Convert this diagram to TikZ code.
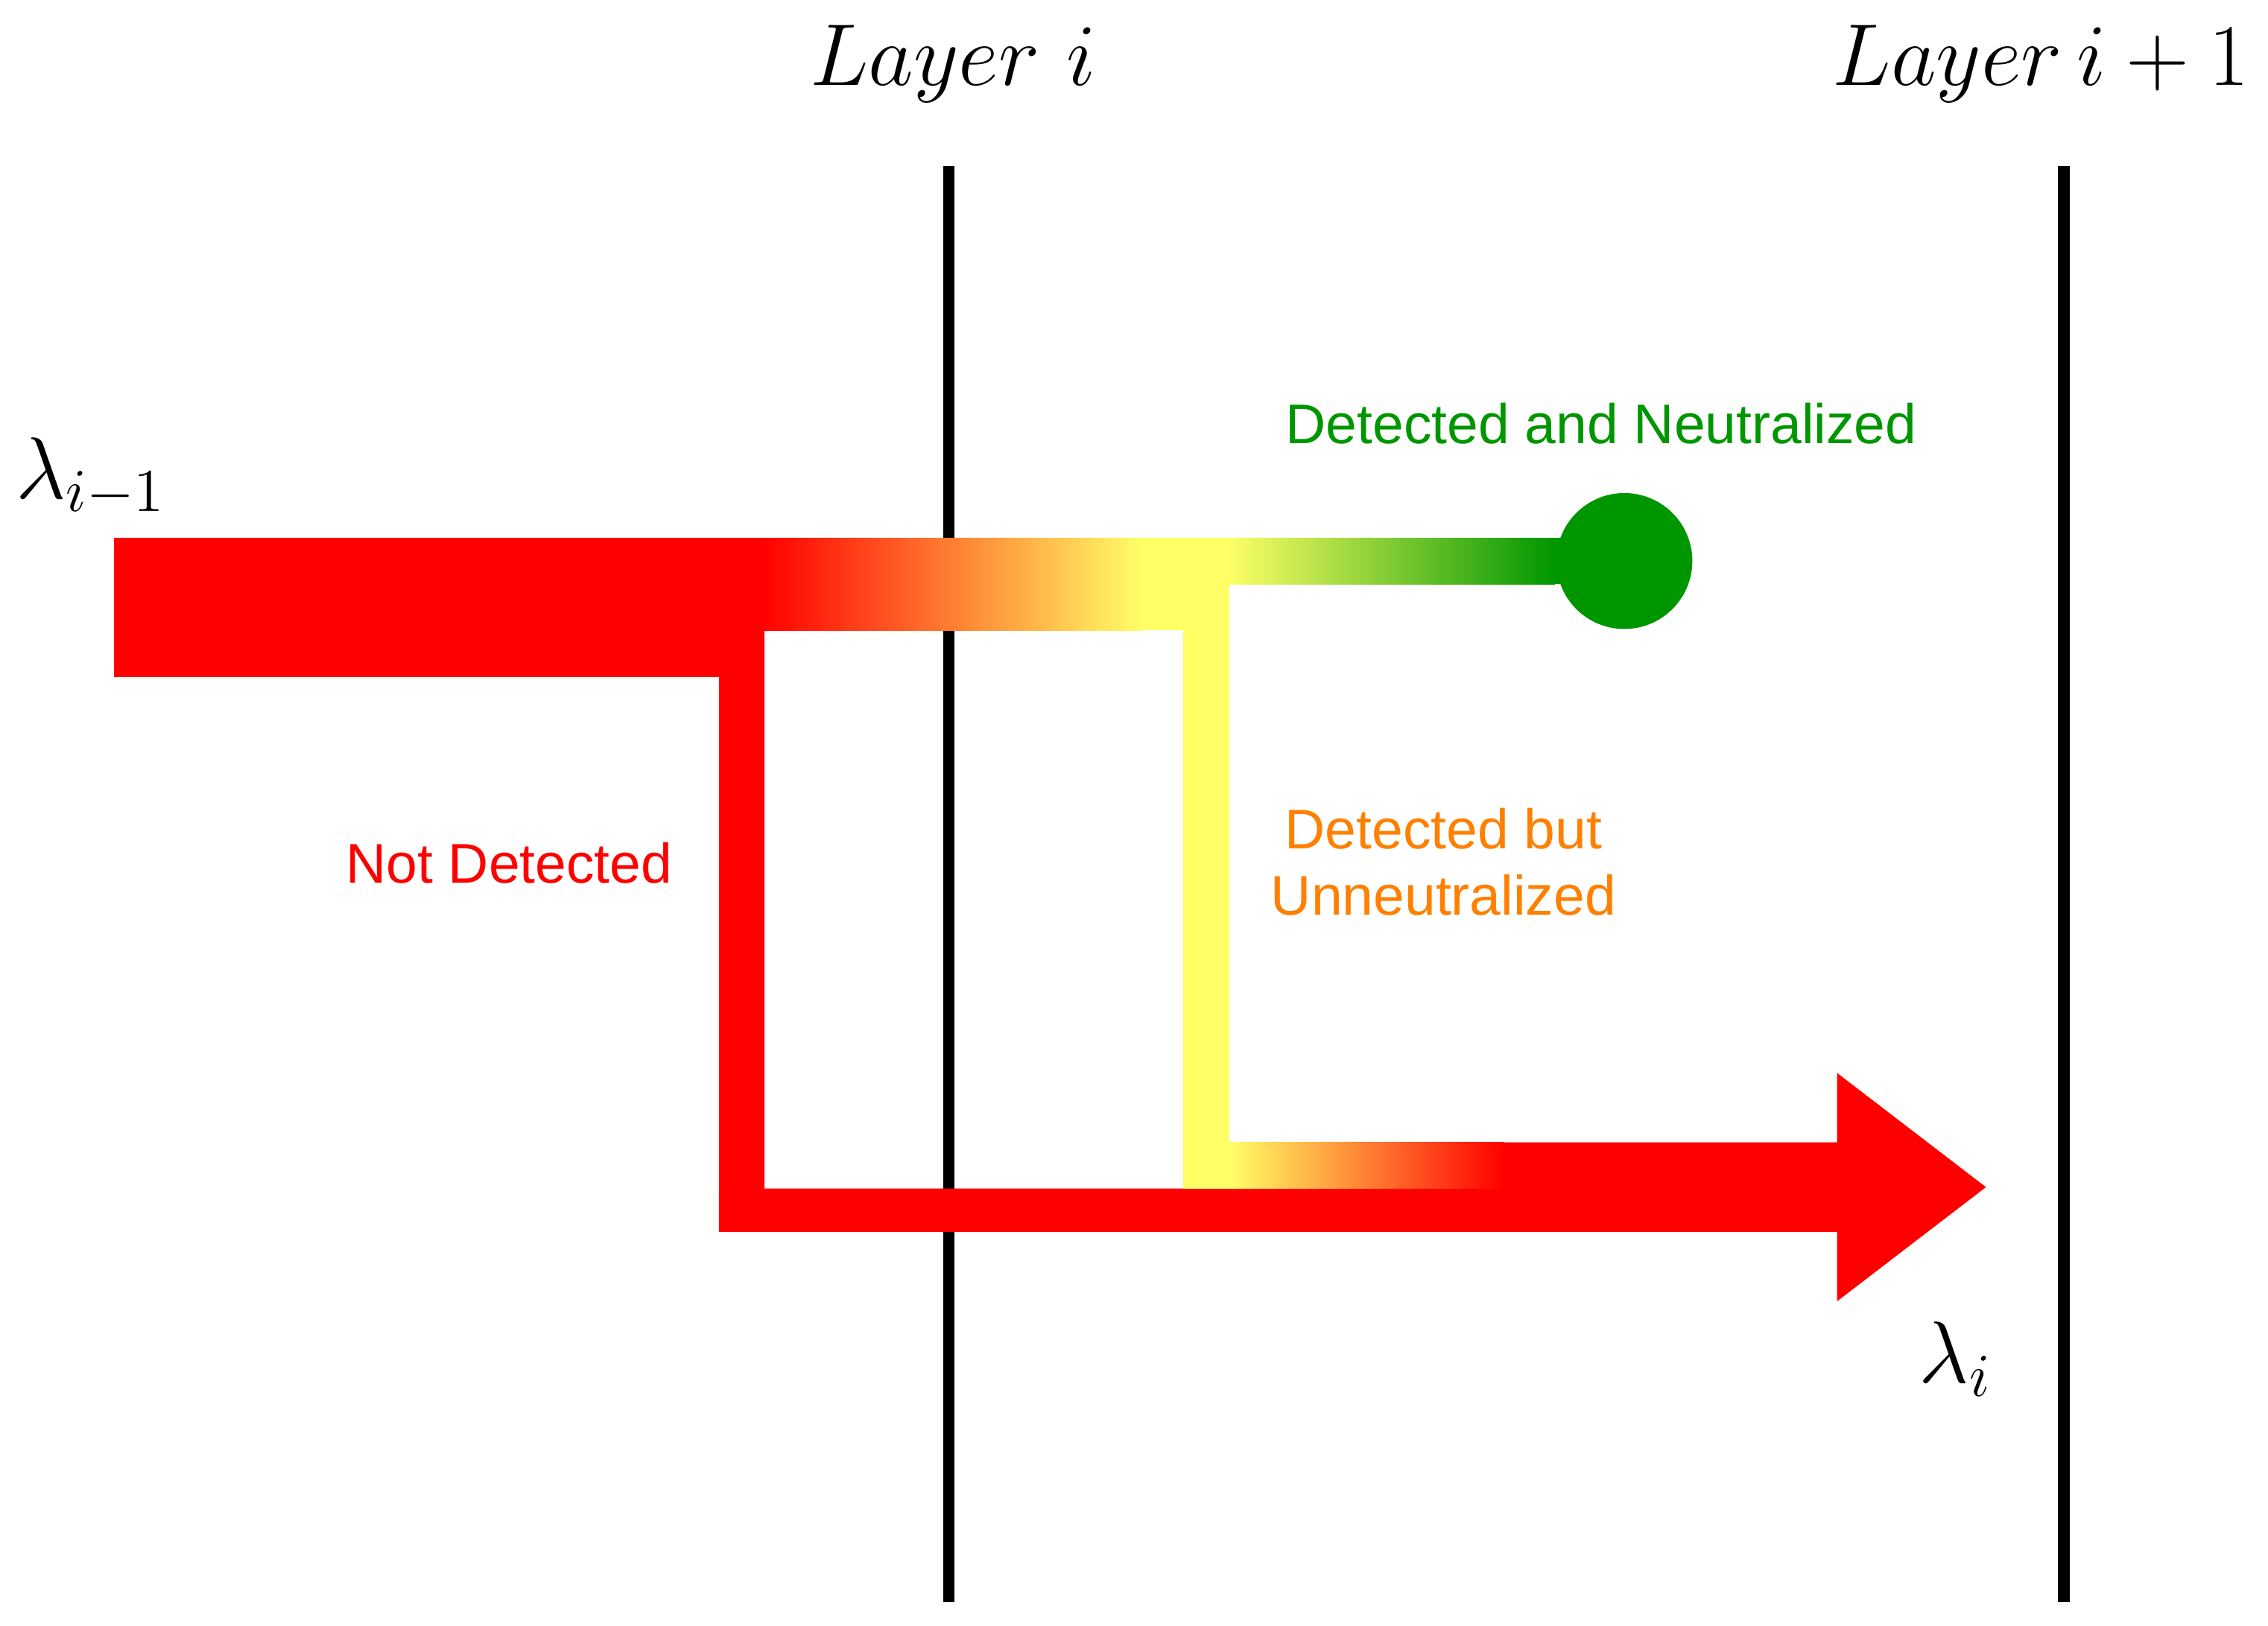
\documentclass[tikz,border=0pt]{standalone}
\usepackage{fontspec}
\newfontfamily\labelfont{Liberation Sans}
\definecolor{flowred}{RGB}{255,0,0}
\definecolor{flowyellow}{RGB}{255,255,102}
\definecolor{flowgreen}{RGB}{0,150,0}
\definecolor{textorange}{RGB}{255,128,0}
\tikzset{
	layerline/.style={line width=2.3pt, black},
	mathlabel/.style={font=\fontsize{17.5}{21}\selectfont, inner sep=0pt},
	flowlabel/.style={font=\labelfont\fontsize{11}{13}\selectfont, align=center, inner sep=0pt}
}
\begin{document}
\begin{tikzpicture}
	\useasboundingbox (0,0) rectangle (15.68,11.24);
	% layers
	\draw[layerline] (6.56, 0.16)--(6.56, 10.09);
	\draw[layerline] (14.27, 0.16)--(14.27, 10.09);
		\node[mathlabel] (layeri) at (6.59, 10.80) {$Layer\ i$};
		\node[mathlabel] (layernext) at (14.11, 10.80) {$Layer\,i+1$};
	
	% not detected part
	\fill[flowred] (0.79, 6.56) rectangle (5.285, 7.52);
	\fill[flowred] (4.97, 2.72) rectangle (5.285, 6.57);
	\fill[flowred] (4.97, 2.72)--(12.70, 2.72)--(12.70, 2.24)--(13.73, 3.03)--(12.70, 3.82)--(12.70, 3.34)--(10.38, 3.34)--(10.38, 3.02)--(4.97, 3.02)--cycle;
	
	% detected part
	\shade[left color=flowred, right color=flowyellow] (5.28, 6.88) rectangle (7.90, 7.52);
	\fill[flowyellow] (7.89, 6.88) rectangle (8.50, 7.52);
	\fill[flowyellow] (8.18, 3.02) rectangle (8.50, 6.89);
	\fill[flowyellow] (8.18, 3.02) rectangle (8.51, 3.34);
	\shade[left color=flowyellow, right color=flowred] (8.50, 3.02) rectangle (10.40, 3.34);
	\shade[left color=flowyellow, right color=flowgreen] (8.49, 7.20) rectangle (10.75, 7.52);
	\fill[flowgreen] (10.74, 7.20) rectangle (11.23, 7.52);
	\fill[flowgreen] (11.23, 7.36) circle (0.47);
	
	\node[mathlabel] (lamin) at (0.63, 7.94) {$\lambda_{i-1}$};
	\node[mathlabel] (lamout) at (13.52, 1.84) {$\lambda_i$};
	\node[flowlabel, text=flowgreen] (neutral) at (11.07, 8.31) {Detected and Neutralized};
	\node[flowlabel, text=flowred] (notdet) at (3.52, 5.27) {Not Detected};
	\node[flowlabel, text=textorange] (unneutral) at (9.98, 5.28) {Detected but\\Unneutralized};
\end{tikzpicture}
\end{document}
